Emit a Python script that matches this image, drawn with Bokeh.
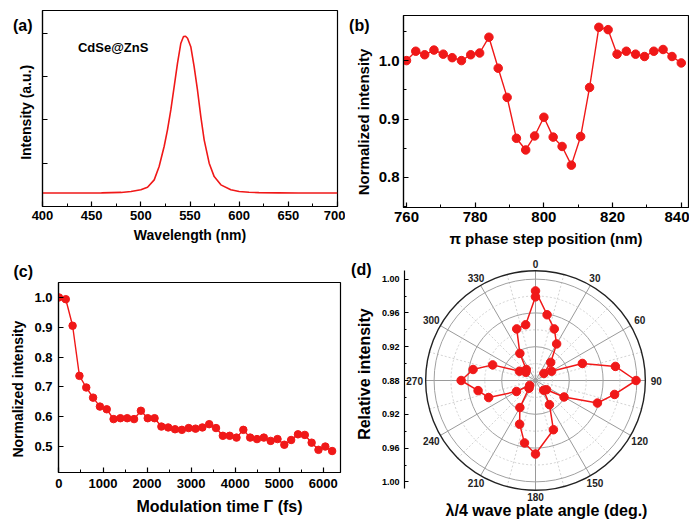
import numpy as np
from bokeh.plotting import figure
from bokeh.layouts import row, column
from bokeh.models import (Range1d, FixedTicker, Label, CustomJSTickFormatter,
                          PrintfTickFormatter, LinearAxis)
from bokeh.embed import file_html
from bokeh.resources import INLINE
from bokeh.core.properties import value

FONT = "Liberation Sans"
RED = "#f01818"
NB = "\u00a0"

# ---------------- data ----------------
# (a) PL spectrum of CdSe@ZnS
wavelength_nm = [400, 420, 440, 460, 480, 490, 500, 506.8, 513.6, 518.6, 523.7, 527.1, 530.5,
                 533.9, 537.3, 540.7, 543.4, 545.5, 547.5, 550.8, 554.2, 557.6, 561.0, 564.4,
                 569.5, 574.6, 581.4, 591.5, 600, 610, 620, 640, 660, 680, 700]
pl_intensity = [0.062, 0.062, 0.062, 0.063, 0.065, 0.069, 0.077, 0.089, 0.123, 0.185, 0.277,
                0.354, 0.446, 0.554, 0.662, 0.754, 0.785, 0.786, 0.777, 0.738, 0.646, 0.538,
                0.415, 0.308, 0.200, 0.138, 0.100, 0.077, 0.069, 0.066, 0.064, 0.063, 0.062,
                0.062, 0.062]

# (b) pi phase step scan
step_position_nm = [760.0, 762.7, 765.3, 768.0, 770.7, 773.3, 776.0, 778.7, 781.3, 784.0,
                    786.7, 789.3, 792.0, 794.7, 797.3, 800.0, 802.7, 805.3, 808.0, 810.7,
                    813.3, 816.0, 818.7, 821.3, 824.0, 826.7, 829.3, 832.0, 834.7, 837.3, 840.0]
step_norm_intensity = [1.000, 1.016, 1.010, 1.018, 1.011, 1.005, 1.000, 1.010, 1.013, 1.040,
                       0.987, 0.937, 0.867, 0.847, 0.871, 0.903, 0.869, 0.853, 0.821, 0.870,
                       0.954, 1.057, 1.053, 1.011, 1.016, 1.011, 1.007, 1.016, 1.019, 1.007, 0.996]

# (c) modulation time scan
modulation_time_fs = [0, 155, 310, 465, 620, 775, 930, 1085, 1240, 1395, 1550, 1705, 1860,
                      2015, 2170, 2325, 2480, 2635, 2790, 2945, 3100, 3255, 3410, 3565, 3720,
                      3875, 4030, 4185, 4340, 4495, 4650, 4805, 4960, 5115, 5270, 5425, 5580,
                      5735, 5890, 6045, 6200]
modulation_norm_intensity = [1.000, 0.994, 0.905, 0.737, 0.698, 0.664, 0.634, 0.625, 0.592,
                             0.595, 0.595, 0.592, 0.620, 0.595, 0.595, 0.567, 0.564, 0.558,
                             0.556, 0.562, 0.560, 0.564, 0.575, 0.562, 0.536, 0.536, 0.530,
                             0.556, 0.530, 0.525, 0.530, 0.519, 0.525, 0.506, 0.522, 0.541,
                             0.539, 0.513, 0.489, 0.500, 0.485]

# (d) wave plate angle (polar)
waveplate_angle_deg = [0, 10, 20, 30, 40, 50, 60, 70, 80, 90, 100, 110, 120, 130, 140, 150, 160,
                       180, 190, 200, 210, 220, 230, 240, 250, 260, 270, 280, 290, 300, 310,
                       320, 330, 340, 350, 360]
relative_intensity = [0.986, 0.959, 0.945, 0.930, 0.908, 0.893, 0.902, 0.939, 0.976, 0.999,
                      0.975, 0.958, 0.919, 0.897, 0.895, 0.913, 0.942, 0.967, 0.955, 0.935,
                      0.917, 0.892, 0.889, 0.906, 0.939, 0.949, 0.968, 0.955, 0.934, 0.902,
                      0.895, 0.897, 0.917, 0.945, 0.947, 0.979]
polar_center_value = 0.88
polar_outer_value = 1.01
polar_major_rings = [0.92, 0.96, 1.00]
polar_minor_rings = [0.90, 0.94, 0.98]
polar_radial_ticks = [0.88, 0.92, 0.96, 1.00]
angle_label_deg = [0, 30, 60, 90, 120, 150, 180, 210, 240, 270, 300, 330]


def style_axis(ax, tick_size, label_size, label_standoff, tick_standoff=4):
    ax.axis_line_color = "black"
    ax.axis_line_width = 1.2
    ax.major_tick_in = 5
    ax.major_tick_out = 0
    ax.minor_tick_in = 3
    ax.minor_tick_out = 0
    ax.major_tick_line_color = "black"
    ax.major_tick_line_width = 1.2
    ax.minor_tick_line_color = "black"
    ax.minor_tick_line_width = 1
    ax.major_label_text_font = FONT
    ax.major_label_text_font_style = "bold"
    ax.major_label_text_font_size = tick_size
    ax.major_label_text_color = "black"
    ax.major_label_standoff = tick_standoff
    ax.axis_label_text_font = FONT
    ax.axis_label_text_font_style = "bold"
    ax.axis_label_text_font_size = label_size
    ax.axis_label_text_color = "black"
    ax.axis_label_standoff = label_standoff


def base_fig(xr, yr, width, height, mb):
    p = figure(width=width, height=height, x_range=Range1d(*xr), y_range=Range1d(*yr),
               output_backend="svg", toolbar_location=None, tools="",
               min_border_left=mb[0], min_border_right=mb[1],
               min_border_top=mb[2], min_border_bottom=mb[3])
    p.xgrid.visible = False
    p.ygrid.visible = False
    p.outline_line_color = "black"
    p.outline_line_width = 1.2
    p.background_fill_color = "white"
    p.border_fill_color = "white"
    return p


def letter_axis(p, text, ytick, standoff):
    """Panel letter drawn as the single tick label of an extra, invisible left axis."""
    ax = LinearAxis(ticker=FixedTicker(ticks=[ytick]),
                    formatter=CustomJSTickFormatter(code="return '%s';" % text),
                    axis_line_color=None, major_tick_line_color=None, minor_tick_line_color=None,
                    major_tick_in=0, major_tick_out=0, minor_tick_in=0, minor_tick_out=0,
                    major_label_standoff=standoff, major_label_text_font=FONT,
                    major_label_text_font_style="bold", major_label_text_font_size="16px",
                    major_label_text_color="black")
    p.add_layout(ax, "left")


# ---------------- (a) ----------------
pa = base_fig((400, 700), (0, 0.905), 345, 255, (42, 8, 10, 49))
pa.line(wavelength_nm, pl_intensity, line_color=RED, line_width=1.6)
pa.xaxis.ticker = FixedTicker(ticks=[400, 450, 500, 550, 600, 650, 700],
                              minor_ticks=[425, 475, 525, 575, 625, 675])
pa.yaxis.ticker = FixedTicker(ticks=[0.2, 0.4, 0.6, 0.8])
style_axis(pa.xaxis[0], "13px", "14px", 4, tick_standoff=4)
style_axis(pa.yaxis[0], "13px", "14px", 9, tick_standoff=0)
pa.yaxis.formatter = CustomJSTickFormatter(code="return '';")
pa.xaxis.axis_label = "Wavelength (nm)"
pa.yaxis.axis_label = "Intensity (a.u.)" + NB * 2
pa.add_layout(Label(x=436, y=0.736, text="CdSe@ZnS", text_font=FONT, text_font_style="bold",
                    text_font_size="13px", text_color="black", text_baseline="middle"))
letter_axis(pa, "(a)", 0.836, -18)

# ---------------- (b) ----------------
pb = base_fig((759.13, 842.1), (0.7485, 1.0772), 344, 255, (58, 1, 15, 48))
pb.line(step_position_nm, step_norm_intensity, line_color=RED, line_width=1.4)
pb.scatter(step_position_nm, step_norm_intensity, size=8.5, fill_color=RED, line_color=RED)
pb.xaxis.ticker = FixedTicker(ticks=[760, 780, 800, 820, 840], minor_ticks=[770, 790, 810, 830])
pb.yaxis.ticker = FixedTicker(ticks=[0.8, 0.9, 1.0], minor_ticks=[0.75, 0.85, 0.95, 1.05])
pb.yaxis.formatter = PrintfTickFormatter(format="%.1f")
style_axis(pb.xaxis[0], "15px", "15px", 5, tick_standoff=4)
style_axis(pb.yaxis[0], "15px", "15px", 4, tick_standoff=4)
pb.xaxis.axis_label = "π phase step position (nm)"
pb.yaxis.axis_label = "Normalized intensity" + NB * 5
letter_axis(pb, "(b)", 1.060, -18)

# ---------------- (c) ----------------
pc = base_fig((-10, 6390), (0.413, 1.05), 345, 264, (58, 5, 27, 47))
pc.line(modulation_time_fs, modulation_norm_intensity, line_color=RED, line_width=1.4)
pc.scatter(modulation_time_fs, modulation_norm_intensity, size=7.5, fill_color=RED, line_color=RED)
pc.xaxis.ticker = FixedTicker(ticks=[0, 1000, 2000, 3000, 4000, 5000, 6000],
                              minor_ticks=[500, 1500, 2500, 3500, 4500, 5500])
pc.yaxis.ticker = FixedTicker(ticks=[0.5, 0.6, 0.7, 0.8, 0.9, 1.0])
pc.yaxis.formatter = PrintfTickFormatter(format="%.1f")
style_axis(pc.xaxis[0], "13px", "16px", 7, tick_standoff=6)
style_axis(pc.yaxis[0], "13px", "14px", 5, tick_standoff=6)
pc.xaxis.axis_label = NB * 9 + "Modulation time Γ (fs)"
pc.yaxis.axis_label = "Normalized intensity" + NB * 6
pc.title.text = "(c)"
pc.title.align = "left"
pc.title.offset = -45
pc.title.standoff = 6
pc.title.text_font = FONT
pc.title.text_font_style = "bold"
pc.title.text_font_size = "16px"
pc.title.text_color = "black"

# ---------------- (d) polar ----------------
S = 845.0  # px per radial unit
pd_ = figure(frame_width=284, frame_height=246, width=None, height=None,
             x_range=Range1d(-131 / S, 153 / S), y_range=Range1d(-121 / S, 125 / S),
             output_backend="svg", toolbar_location=None, tools="",
             min_border_left=59, min_border_right=1, min_border_top=0, min_border_bottom=18)
pd_.xgrid.visible = False
pd_.ygrid.visible = False
pd_.outline_line_color = None
pd_.background_fill_color = "white"
pd_.border_fill_color = "white"

R_out = polar_outer_value - polar_center_value
# radial spokes
maj_ang = np.radians(angle_label_deg)
min_ang = np.radians(np.array(angle_label_deg) + 15)
pd_.segment(x0=[0] * len(min_ang), y0=[0] * len(min_ang), x1=R_out * np.sin(min_ang),
            y1=R_out * np.cos(min_ang), line_color="#c8c8c8", line_width=0.8, line_dash="2 2")
pd_.segment(x0=[0] * len(maj_ang), y0=[0] * len(maj_ang), x1=R_out * np.sin(maj_ang),
            y1=R_out * np.cos(maj_ang), line_color="#9a9a9a", line_width=1)
# rings
pd_.circle(x=[0] * 3, y=[0] * 3, radius=[v - polar_center_value for v in polar_minor_rings],
           fill_color=None, line_color="#c8c8c8", line_width=0.8, line_dash="2 2")
pd_.circle(x=[0] * 3, y=[0] * 3, radius=[v - polar_center_value for v in polar_major_rings],
           fill_color=None, line_color="#a0a0a0", line_width=1)
pd_.circle(x=[0], y=[0], radius=[R_out], fill_color=None, line_color="#222222", line_width=1.4)

# angle labels
lab_r = (R_out * S + 7 + 4 * np.abs(np.sin(maj_ang))) / S
pd_.text(x=lab_r * np.sin(maj_ang), y=lab_r * np.cos(maj_ang), text=[str(a) for a in angle_label_deg],
         text_font=value(FONT), text_font_size=value("10px"), text_font_style="bold",
         text_color="#222222", text_align="center", text_baseline="middle")

# data
th = np.radians(waveplate_angle_deg)
rr = np.array(relative_intensity) - polar_center_value
px = rr * np.sin(th)
py = rr * np.cos(th)
pd_.line(px, py, line_color=RED, line_width=1.5)
pd_.scatter(px, py, size=8.5, fill_color=RED, line_color=RED)

# radial axis on left
ry = pd_.yaxis[0]
tick_off = [v - polar_center_value for v in polar_radial_ticks]
ry.ticker = FixedTicker(ticks=sorted(set([-t for t in tick_off] + tick_off)),
                        minor_ticks=[-0.10, -0.06, -0.02, 0.02, 0.06, 0.10])
ry.formatter = CustomJSTickFormatter(code="return (0.88 + Math.abs(tick)).toFixed(2);")
ry.bounds = (-0.128, 0.130)
style_axis(ry, "9px", "16px", 6, tick_standoff=5)
ry.major_tick_in = 4
ry.minor_tick_in = 2
ry.axis_label = NB * 2 + "Relative intensity"

rx = pd_.xaxis[0]
rx.ticker = FixedTicker(ticks=[])
rx.axis_line_color = None
rx.major_tick_line_color = None
rx.minor_tick_line_color = None
rx.major_tick_out = 0
rx.major_label_standoff = 0
rx.axis_label_standoff = 0
rx.axis_label = "λ/4 wave plate angle (deg.)"
rx.axis_label_text_font = FONT
rx.axis_label_text_font_style = "bold"
rx.axis_label_text_font_size = "16px"
rx.axis_label_text_color = "black"
letter_axis(pd_, "(d)", 0.1314, -19)

layout = row(column(row(pa), row(pc)), column(row(pb), row(pd_)))
open("out.html", "w").write(file_html(layout, INLINE))
